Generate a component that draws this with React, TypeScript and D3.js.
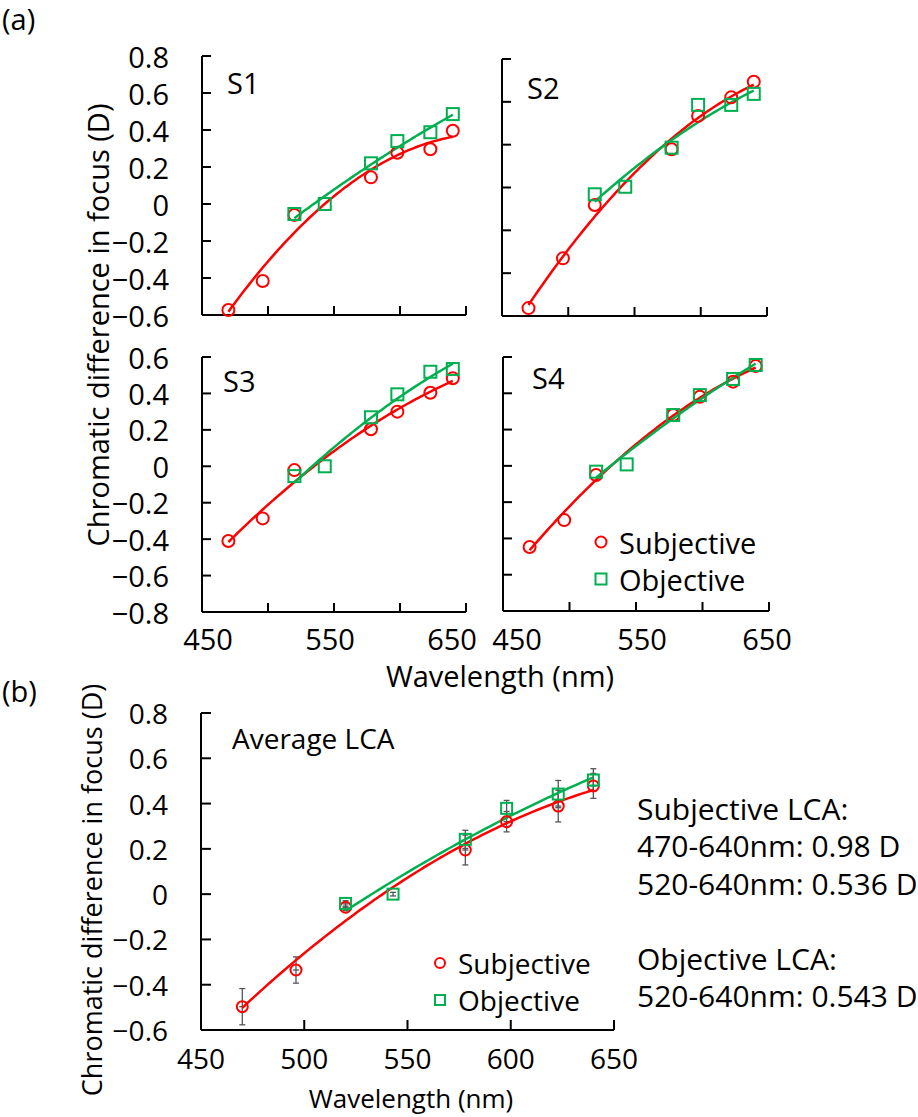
import React from "react";
import * as d3 from "d3";

// wavelengths (nm)
const wlSubj = [470, 496, 520, 578, 598, 623, 640];
const wlObj = [520, 543, 578, 598, 623, 640];

// individual subjects, chromatic difference in focus (D)
const s1Subj = [-0.573, -0.416, -0.059, 0.144, 0.277, 0.296, 0.396];
const s1Obj = [-0.054, 0.0, 0.22, 0.34, 0.388, 0.486];
const s2Subj = [-0.557, -0.286, 0.005, 0.308, 0.49, 0.591, 0.676];
const s2Obj = [0.063, 0.104, 0.317, 0.55, 0.55, 0.61];
const s3Subj = [-0.41, -0.286, -0.021, 0.203, 0.3, 0.404, 0.483];
const s3Obj = [-0.054, 0.0, 0.269, 0.395, 0.519, 0.534];
const s4Subj = [-0.447, -0.299, -0.05, 0.28, 0.381, 0.464, 0.55];
const s4Obj = [-0.032, 0.008, 0.28, 0.39, 0.479, 0.556];

// average + standard deviation
const avgSubj = [-0.497, -0.335, -0.058, 0.195, 0.32, 0.389, 0.478];
const avgSubjErr = [0.08, 0.058, 0.015, 0.066, 0.045, 0.07, 0.055];
const avgObj = [-0.041, 0.0, 0.242, 0.379, 0.442, 0.504];
const avgObjErr = [0.012, 0.008, 0.04, 0.035, 0.06, 0.05];

const xTicks = [450, 500, 550, 600, 650];
const xLabelsA = [450, 550, 650];
const yTicksTop = [-0.6, -0.4, -0.2, 0, 0.2, 0.4, 0.6, 0.8];
const yTicksBottom = [-0.8, -0.6, -0.4, -0.2, 0, 0.2, 0.4, 0.6];
const yTicksS2 = d3.range(7).map((k) => -0.6 + (k * 1.4) / 6);

const statsLines = ["Subjective LCA:", "470-640nm: 0.98 D", "520-640nm: 0.536 D", "", "Objective LCA:", "520-640nm: 0.543 D"];

const RED = "#ff0000";
const GREEN = "#00b050";
const FONT = "'Open Sans', sans-serif";

// least squares 2nd order polynomial (like Excel's trendline)
function polyFit(xs: number[], ys: number[]) {
  const m = d3.mean(xs)!;
  const u = xs.map((x) => x - m);
  const S = (p: number) => d3.sum(u, (v) => Math.pow(v, p));
  const T = (p: number) => d3.sum(u, (v, i) => Math.pow(v, p) * ys[i]);
  const A = [
    [S(0), S(1), S(2)],
    [S(1), S(2), S(3)],
    [S(2), S(3), S(4)],
  ];
  const b = [T(0), T(1), T(2)];
  for (let i = 0; i < 3; i++) {
    for (let j = i + 1; j < 3; j++) {
      const f = A[j][i] / A[i][i];
      for (let k = i; k < 3; k++) A[j][k] -= f * A[i][k];
      b[j] -= f * b[i];
    }
  }
  const c = [0, 0, 0];
  for (let i = 2; i >= 0; i--) {
    let s = b[i];
    for (let k = i + 1; k < 3; k++) s -= A[i][k] * c[k];
    c[i] = s / A[i][i];
  }
  return (x: number) => c[0] + c[1] * (x - m) + c[2] * (x - m) * (x - m);
}

type PanelProps = {
  left: number;
  right: number;
  top: number;
  bottom: number;
  yDomain: [number, number];
  yTicks: number[];
  yLabels?: boolean;
  xLabels?: number[];
  xLabelRange?: [number, number];
  xLabelY?: number;
  subj: number[];
  obj: number[];
  subjErr?: number[];
  objErr?: number[];
  name: string;
  nameX: number;
  nameY: number;
  fontSize: number;
  markerR: number;
  tickLen: number;
};

function Panel(p: PanelProps) {
  const x = d3.scaleLinear().domain([450, 650]).range([p.left, p.right]);
  const xl = d3.scaleLinear().domain([450, 650]).range(p.xLabelRange || [p.left, p.right]);
  const y = d3.scaleLinear().domain(p.yDomain).range([p.bottom, p.top]);
  const line = d3.line<number>().x((d) => x(d));
  const fitS = polyFit(wlSubj, p.subj);
  const fitO = polyFit(wlObj, p.obj);
  const sampS = d3.range(wlSubj[0], wlSubj[wlSubj.length - 1] + 0.01, 2);
  const sampO = d3.range(wlObj[0], wlObj[wlObj.length - 1] + 0.01, 2);
  const pathS = line.y((d) => y(fitS(d)))(sampS) || "";
  const pathO = line.y((d) => y(fitO(d)))(sampO) || "";
  const s = p.markerR;
  const errBar = (w: number, v: number, e: number, key: string, mid: boolean) => (
    <g key={key} stroke="#555" strokeWidth={1.3}>
      <line x1={x(w)} x2={x(w)} y1={y(v - e)} y2={y(v + e)} />
      <line x1={x(w) - 3} x2={x(w) + 3} y1={y(v - e)} y2={y(v - e)} />
      <line x1={x(w) - 3} x2={x(w) + 3} y1={y(v + e)} y2={y(v + e)} />
      {mid && <line x1={x(w) - 3} x2={x(w) + 3} y1={y(v)} y2={y(v)} />}
    </g>
  );
  return (
    <g>
      <line x1={p.left} x2={p.left} y1={p.top} y2={p.bottom} stroke="#000" strokeWidth={2} />
      <line x1={p.left} x2={p.right} y1={p.bottom} y2={p.bottom} stroke="#000" strokeWidth={2} />
      {p.yTicks.map((t, i) => (
        <line key={"yt" + i} x1={p.left} x2={p.left + p.tickLen} y1={y(t)} y2={y(t)} stroke="#000" strokeWidth={2} />
      ))}
      {xTicks.map((t) => (
        <line key={"xt" + t} x1={x(t)} x2={x(t)} y1={p.bottom} y2={p.bottom - p.tickLen} stroke="#000" strokeWidth={2} />
      ))}
      {p.yLabels &&
        p.yTicks.map((t, i) => (
          <text key={"yl" + i} x={p.left - 33} y={y(t)} textAnchor="end" dominantBaseline="central" fontSize={p.fontSize} fontFamily={FONT}>
            {Math.abs(t) < 1e-9 ? "0" : d3.format(".1f")(t)}
          </text>
        ))}
      {p.xLabels &&
        p.xLabels.map((t) => (
          <text key={"xl" + t} x={xl(t)} y={p.xLabelY} textAnchor="middle" dominantBaseline="central" fontSize={p.fontSize} fontFamily={FONT}>
            {t}
          </text>
        ))}
      <text x={p.nameX} y={p.nameY} dominantBaseline="central" fontSize={p.fontSize} fontFamily={FONT}>
        {p.name}
      </text>
      {p.subjErr && wlSubj.map((w, i) => errBar(w, p.subj[i], p.subjErr![i], "es" + i, true))}
      {p.objErr && wlObj.map((w, i) => errBar(w, p.obj[i], p.objErr![i], "eo" + i, false))}
      <path d={pathS} fill="none" stroke={RED} strokeWidth={2.5} />
      <path d={pathO} fill="none" stroke={GREEN} strokeWidth={2.5} />
      {wlSubj.map((w, i) => (
        <circle key={"cs" + i} cx={x(w)} cy={y(p.subj[i])} r={s} fill="none" stroke={RED} strokeWidth={2} />
      ))}
      {wlObj.map((w, i) => (
        <rect key={"ro" + i} x={x(w) - s} y={y(p.obj[i]) - s} width={2 * s} height={2 * s} fill="none" stroke={GREEN} strokeWidth={2} />
      ))}
    </g>
  );
}

function Legend({ x, y, fontSize, r }: { x: number; y: number; fontSize: number; r: number }) {
  return (
    <g fontFamily={FONT} fontSize={fontSize}>
      <circle cx={x} cy={y} r={r} fill="none" stroke={RED} strokeWidth={2} />
      <text x={x + 18} y={y} dominantBaseline="central">Subjective</text>
      <rect x={x - r} y={y + 37 - r} width={2 * r} height={2 * r} fill="none" stroke={GREEN} strokeWidth={2} />
      <text x={x + 18} y={y + 37} dominantBaseline="central">Objective</text>
    </g>
  );
}

export default function App() {
  return (
    <svg width={918} height={1117} style={{ position: "absolute", left: 0, top: 0, background: "#fff" }}>
      <text x={2} y={18} dominantBaseline="central" fontSize={29} fontFamily={FONT}>(a)</text>
      <text x={2} y={690} dominantBaseline="central" fontSize={29} fontFamily={FONT}>(b)</text>

      <Panel left={202} right={466} top={56} bottom={315} yDomain={[-0.6, 0.8]} yTicks={yTicksTop} yLabels
        subj={s1Subj} obj={s1Obj} name="S1" nameX={227} nameY={82} fontSize={29} markerR={6} tickLen={9} />
      <Panel left={502} right={767} top={59} bottom={316} yDomain={[-0.6, 0.8]} yTicks={yTicksS2}
        subj={s2Subj} obj={s2Obj} name="S2" nameX={527} nameY={87} fontSize={29} markerR={6} tickLen={9} />
      <Panel left={202} right={466} top={357} bottom={612} yDomain={[-0.8, 0.6]} yTicks={yTicksBottom} yLabels
        xLabels={xLabelsA} xLabelRange={[208, 452]} xLabelY={638}
        subj={s3Subj} obj={s3Obj} name="S3" nameX={223} nameY={380} fontSize={29} markerR={6} tickLen={9} />
      <Panel left={503} right={769} top={357} bottom={611} yDomain={[-0.8, 0.6]} yTicks={yTicksBottom}
        xLabels={xLabelsA} xLabelRange={[517, 767]} xLabelY={638}
        subj={s4Subj} obj={s4Obj} name="S4" nameX={532} nameY={377} fontSize={29} markerR={6} tickLen={9} />
      <Legend x={601} y={542} fontSize={29} r={5.5} />
      <text x={500} y={675} textAnchor="middle" dominantBaseline="central" fontSize={29} fontFamily={FONT}>Wavelength (nm)</text>
      <text transform="translate(97,325) rotate(-90)" textAnchor="middle" dominantBaseline="central" fontSize={29} fontFamily={FONT}>
        Chromatic difference in focus (D)
      </text>

      <Panel left={201} right={614} top={713} bottom={1030} yDomain={[-0.6, 0.8]} yTicks={yTicksTop} yLabels
        xLabels={xTicks} xLabelY={1058}
        subj={avgSubj} obj={avgObj} subjErr={avgSubjErr} objErr={avgObjErr}
        name="Average LCA" nameX={232} nameY={738} fontSize={28} markerR={5.5} tickLen={10} />
      <Legend x={440} y={963} fontSize={28} r={5} />
      <text x={411} y={1098} textAnchor="middle" dominantBaseline="central" fontSize={26} fontFamily={FONT}>Wavelength (nm)</text>
      <text transform="translate(91,890) rotate(-90)" textAnchor="middle" dominantBaseline="central" fontSize={27} fontFamily={FONT}>
        Chromatic difference in focus (D)
      </text>

      <g fontFamily={FONT} fontSize={30}>
        {statsLines.map((t, i) => (
          <text key={i} x={637} y={808 + i * 37.5} dominantBaseline="central">{t}</text>
        ))}
      </g>
    </svg>
  );
}
